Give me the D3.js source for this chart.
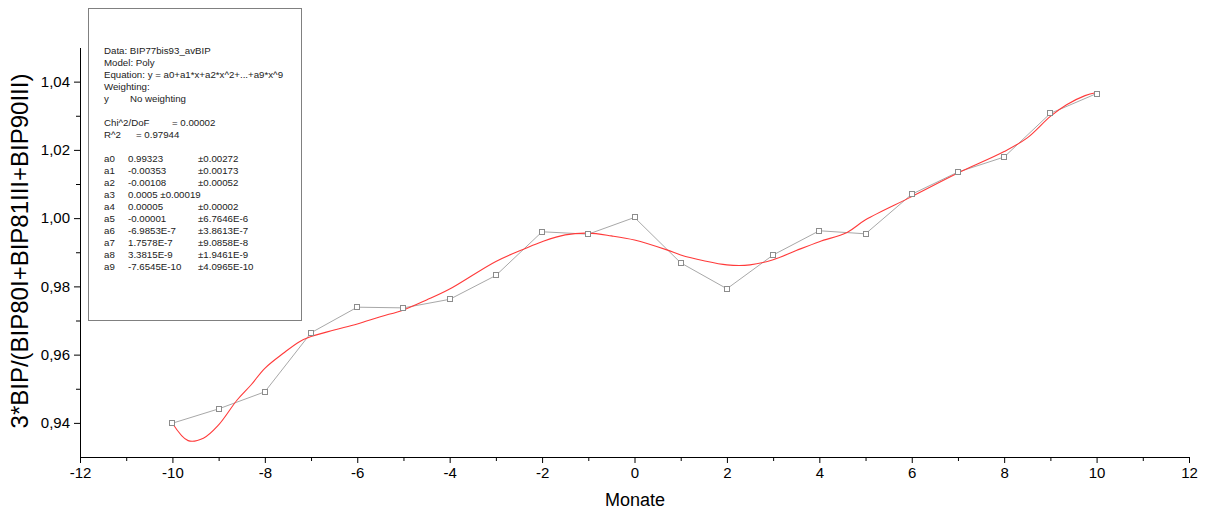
<!DOCTYPE html>
<html>
<head>
<meta charset="utf-8">
<script src="https://cdn.jsdelivr.net/npm/d3@7"></script>
<style>
body { margin: 0; background: #fff; }
text { font-family: "Liberation Sans", Arial, sans-serif; }
</style>
</head>
<body>
<div id="chart-area"></div>
<script>
// measured data (gray squares)
let months = [-10, -9, -8, -7, -6, -5, -4, -3, -2, -1, 0, 1, 2, 3, 4, 5, 6, 7, 8, 9, 10];
let ratio = [0.9399, 0.9441, 0.9491, 0.9664, 0.9739, 0.9737, 0.9762, 0.9832, 0.9960, 0.9953,
    1.0002, 0.9869, 0.9793, 0.9892, 0.9963, 0.9954, 1.0070, 1.0135, 1.0179, 1.0307, 1.0365];

// fitted curve
let fitX = [-10, -9.66, -9.33, -9.0, -8.6, -8.3, -8.0, -7.6, -7.25, -7.0, -6.5, -6.0, -5.5, -5.0,
    -4.5, -4.0, -3.0, -2.35, -2.0, -1.5, -1.0, -0.5, 0, 0.7, 1.0, 1.5, 2.0, 2.5, 3.0, 3.5, 4.0,
    4.6, 5.0, 6.0, 7.0, 8.0, 8.5, 9.0, 9.35, 9.75, 10.0];
let fitY = [0.9399, 0.9348, 0.9355, 0.9394, 0.9467, 0.9511, 0.9560, 0.9604, 0.9638, 0.9653,
    0.9672, 0.9690, 0.9711, 0.9731, 0.9760, 0.9792, 0.9873, 0.9912, 0.9931, 0.9951, 0.9956,
    0.9948, 0.9936, 0.9907, 0.9892, 0.9875, 0.9863, 0.9863, 0.9878, 0.9905, 0.9931, 0.9958,
    0.9995, 1.0063, 1.0132, 1.0195, 1.0235, 1.0298, 1.0332, 1.0359, 1.0368];

let xTicks = [-12, -10, -8, -6, -4, -2, 0, 2, 4, 6, 8, 10, 12];
let xMinor = [-11, -9, -7, -5, -3, -1, 1, 3, 5, 7, 9, 11];
let yTicks = [0.94, 0.96, 0.98, 1.00, 1.02, 1.04];
let yMinor = [0.95, 0.97, 0.99, 1.01, 1.03];

// fit report text
let infoLines = ["Data: BIP77bis93_avBIP", "Model: Poly",
    "Equation: y = a0+a1*x+a2*x^2+...+a9*x^9", "Weighting:"];
let coefNames = ["a0", "a1", "a2", "a3", "a4", "a5", "a6", "a7", "a8", "a9"];
let coefValues = ["0.99323", "-0.00353", "-0.00108", "0.0005  \u00b10.00019", "0.00005",
    "-0.00001", "-6.9853E-7", "1.7578E-7", "3.3815E-9", "-7.6545E-10"];
let coefErrors = ["\u00b10.00272", "\u00b10.00173", "\u00b10.00052", "", "\u00b10.00002",
    "\u00b16.7646E-6", "\u00b13.8613E-7", "\u00b19.0858E-8", "\u00b11.9461E-9", "\u00b14.0965E-10"];

let svg = d3.select("#chart-area")
    .append("svg")
    .attr("width", 1215)
    .attr("height", 510);

let x = d3.scaleLinear().domain([-12, 12]).range([80, 1189]);
let y = d3.scaleLinear().domain([0.93, 1.05]).range([457, 47.5]);

let comma = d3.formatLocale({decimal: ",", thousands: ".", grouping: [3], currency: ["", ""]}).format(".2f");

// X Axis
svg.append("g")
    .attr("transform", "translate(0," + y(0.93) + ")")
    .call(d3.axisBottom(x).tickValues(xTicks).tickSize(6).tickSizeOuter(0).tickPadding(4)
        .tickFormat(function (d) { return String(d); }));
svg.append("g")
    .attr("transform", "translate(0," + y(0.93) + ")")
    .call(d3.axisBottom(x).tickValues(xMinor).tickSize(4).tickFormat(""))
    .select(".domain").remove();

// Y Axis
svg.append("g")
    .attr("transform", "translate(" + x(-12) + ",0)")
    .call(d3.axisLeft(y).tickValues(yTicks).tickSize(6).tickSizeOuter(0).tickPadding(4)
        .tickFormat(comma));
svg.append("g")
    .attr("transform", "translate(" + x(-12) + ",0)")
    .call(d3.axisLeft(y).tickValues(yMinor).tickSize(4).tickFormat(""))
    .select(".domain").remove();

svg.selectAll(".tick text")
    .attr("font-size", "15px")
    .attr("font-family", "Liberation Sans, Arial, sans-serif")
    .attr("fill", "#000");

// X Label
svg.append("text")
    .attr("x", 635)
    .attr("y", 506)
    .attr("font-size", "18px")
    .attr("text-anchor", "middle")
    .text("Monate");

// Y Label
svg.append("text")
    .attr("x", -251)
    .attr("y", 28)
    .attr("font-size", "24px")
    .attr("text-anchor", "middle")
    .attr("transform", "rotate(-90)")
    .text("3*BIP/(BIP80I+BIP81III+BIP90III)");

// measured line
let pts = months.map(function (m, i) { return [m, ratio[i]]; });
svg.append("path")
    .datum(pts)
    .attr("fill", "none")
    .attr("stroke", "#a8a8a8")
    .attr("stroke-width", 1)
    .attr("d", d3.line()
        .x(function (d) { return x(d[0]); })
        .y(function (d) { return y(d[1]); }));

// fit line
let fit = fitX.map(function (v, i) { return [v, fitY[i]]; });
svg.append("path")
    .datum(fit)
    .attr("fill", "none")
    .attr("stroke", "#ff3a3a")
    .attr("stroke-width", 1.1)
    .attr("d", d3.line()
        .curve(d3.curveCatmullRom.alpha(0.5))
        .x(function (d) { return x(d[0]); })
        .y(function (d) { return y(d[1]); }));

// square markers
svg.selectAll("rect.pt")
    .data(pts)
    .enter()
    .append("rect")
    .attr("class", "pt")
    .attr("x", function (d) { return Math.round(x(d[0])) - 2.5; })
    .attr("y", function (d) { return Math.round(y(d[1])) - 2.5; })
    .attr("width", 5)
    .attr("height", 5)
    .attr("fill", "#fff")
    .attr("stroke", "#8c8c8c")
    .attr("stroke-width", 1);

// fit report box
let box = svg.append("g");
box.append("rect")
    .attr("x", 88.5)
    .attr("y", 8.5)
    .attr("width", 213)
    .attr("height", 312)
    .attr("fill", "#fff")
    .attr("stroke", "#808080")
    .attr("stroke-width", 1);

let info = box.append("g")
    .attr("font-size", "9.7px")
    .attr("fill", "#222")
    .style("white-space", "pre");

let rowY = function (r) { return 54 + r * 12; };

infoLines.forEach(function (t, i) {
    info.append("text").attr("x", 104).attr("y", rowY(i)).text(t);
});
info.append("text").attr("x", 104).attr("y", rowY(4)).text("y");
info.append("text").attr("x", 130).attr("y", rowY(4)).text("No weighting");
info.append("text").attr("x", 104).attr("y", rowY(6)).text("Chi^2/DoF");
info.append("text").attr("x", 172).attr("y", rowY(6)).text("= 0.00002");
info.append("text").attr("x", 104).attr("y", rowY(7)).text("R^2");
info.append("text").attr("x", 136).attr("y", rowY(7)).text("=  0.97944");

coefNames.forEach(function (n, i) {
    info.append("text").attr("x", 104).attr("y", rowY(9 + i)).text(n);
    info.append("text").attr("x", 128).attr("y", rowY(9 + i)).text(coefValues[i]);
    info.append("text").attr("x", 198).attr("y", rowY(9 + i)).text(coefErrors[i]);
});
</script>
</body>
</html>
